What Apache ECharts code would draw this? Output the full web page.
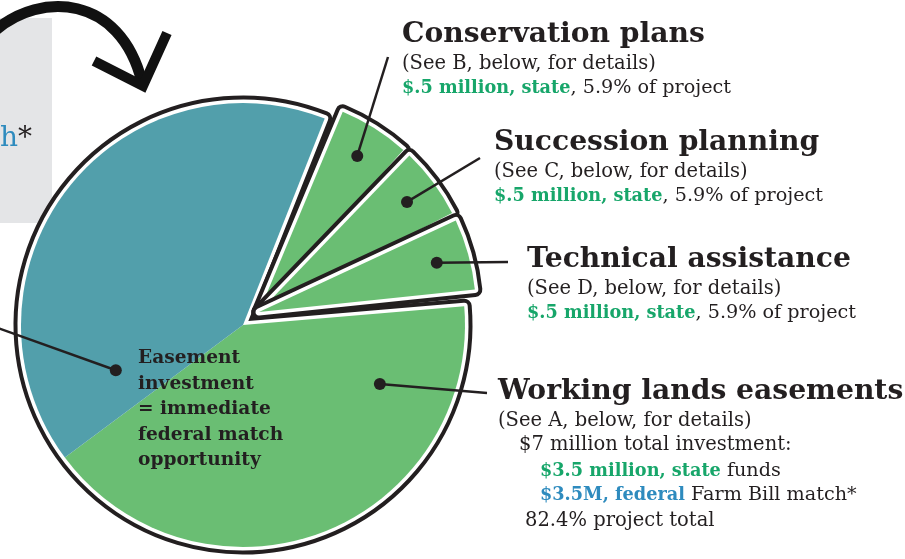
<!DOCTYPE html>
<html><head><meta charset="utf-8">
<script src="https://cdn.jsdelivr.net/npm/echarts@6/dist/echarts.min.js"></script>
<style>html,body{margin:0;padding:0;background:#fff;overflow:hidden}#c{width:905px;height:559px}</style>
</head><body><div id="c"></div>
<script>
// ---- data ($ million) ----
const sliceNames = ['Conservation plans', 'Succession planning', 'Technical assistance'];
const sliceValues = [0.5, 0.5, 0.5];
const sliceNotes = ['(See B, below, for details)', '(See C, below, for details)', '(See D, below, for details)'];
const sliceAmounts = ['$.5 million, state', '$.5 million, state', '$.5 million, state'];
const sliceShares = [', 5.9% of project', ', 5.9% of project', ', 5.9% of project'];
const easementName = 'Working lands easements';
const easementNote = '(See A, below, for details)';
const easementParts = ['State funds', 'Federal Farm Bill match'];
const easementValues = [3.5, 3.5];
const easementLines = ['$7 million total investment:', '$3.5 million, state', ' funds', '$3.5M, federal', ' Farm Bill match*', '82.4% project total'];
const insideText = ['Easement', 'investment', '= immediate', 'federal match', 'opportunity'];

// ---- style ----
const TEAL = '#529fab', GREEN = '#6abe73', INK = '#231f20', TGREEN = '#17a66a', TBLUE = '#2e8bbe';
const FONT = '"DejaVu Serif", "Liberation Serif", serif';
const START = 68.4;
const mainC = [243, 325], mainR = 222;
const smallC = [259, 312], smallR = 217;

const sliceSum = sliceValues.reduce((a, b) => a + b, 0);
const easeSum = easementValues.reduce((a, b) => a + b, 0);
const total = sliceSum + easeSum;
const clear = { color: 'rgba(0,0,0,0)', borderWidth: 0 };

function layer(center, r, data, bw, bc, pad) {
  return {
    type: 'pie', center: center, radius: [0, r], startAngle: START, clockwise: true, padAngle: pad || 0,
    silent: true, animation: false, label: { show: false }, labelLine: { show: false },
    emphasis: { disabled: true }, avoidLabelOverlap: false,
    itemStyle: { borderWidth: bw, borderColor: bc, borderJoin: 'round' },
    data: data
  };
}
const series = [
  layer(mainC, mainR, [{ value: sliceSum, itemStyle: clear }, { value: easeSum, name: easementName, itemStyle: { color: INK } }], 15, INK),
  layer(mainC, mainR, [{ value: sliceSum, itemStyle: clear }, { value: easeSum, name: easementName, itemStyle: { color: '#fff' } }], 7, '#fff'),
  layer(mainC, mainR, [{ value: sliceSum, itemStyle: clear },
    { value: easementValues[0], name: easementParts[0], itemStyle: { color: GREEN } },
    { value: easementValues[1], name: easementParts[1], itemStyle: { color: TEAL } }], 0, 'transparent')
];
// each small slice outlined on its own
sliceValues.forEach((v, i) => {
  [[INK, 15], ['#fff', 7], [GREEN, 0]].forEach(([col, bw]) => {
    const data = sliceValues.map((vv, j) => j === i ? { value: vv, name: sliceNames[j], itemStyle: { color: col } } : { value: vv, itemStyle: clear });
    data.push({ value: easeSum, itemStyle: clear });
    series.push(layer(smallC, smallR, data, bw, bw ? col : 'transparent', 2.2));
  });
});

// angle helpers (same geometry the pie uses)
function angleAt(cum) { return (START - cum / total * 360) * Math.PI / 180; }
function polar(c, r, a) { return [c[0] + r * Math.cos(a), c[1] - r * Math.sin(a)]; }

const g = [];
// background box + arrow
g.push({ type: 'rect', shape: { x: -1, y: 18, width: 53, height: 205 }, style: { fill: '#e4e5e7' }, z: 1 });
g.push({ type: 'text', x: 0, y: 139, z: 2, style: { text: '{b|h}{d|*}', font: '28px ' + FONT, verticalAlign: 'middle',
  rich: { b: { fill: TBLUE, fontSize: 28, fontFamily: FONT }, d: { fill: INK, fontSize: 28, fontFamily: FONT } } } });
g.push({ type: 'bezierCurve', z: 3, shape: { x1: -4, y1: 30, cpx1: 40, cpy1: -8, cpx2: 120, cpy2: -6, x2: 142, y2: 82 },
  style: { stroke: '#111', lineWidth: 11, fill: null, lineCap: 'round' } });
g.push({ type: 'polyline', z: 3, shape: { points: [[94, 61], [143, 86], [167, 33]] }, style: { stroke: '#111', lineWidth: 10, fill: null, lineJoin: 'miter', lineCap: 'butt' } });

// leader lines & dots
const leaders = [];
let cum = 0;
sliceValues.forEach((v, i) => {
  const a = angleAt(cum + v / 2);
  leaders.push({ dot: polar(smallC, smallR * 0.85, a) });
  cum += v;
});
const easeA = angleAt(sliceSum + easementValues[0] * 0.19);
const fedA = angleAt(sliceSum + easementValues[0] + easementValues[1] * 0.115);
leaders.push({ dot: polar(mainC, 149, easeA) });
leaders.push({ dot: polar(mainC, 135, fedA) });
const leaderEnds = [[388, 57], [480, 158], [508, 262], [487, 393], [-5, 327]];
leaders.forEach((l, i) => {
  g.push({ type: 'line', z: 10, shape: { x1: l.dot[0], y1: l.dot[1], x2: leaderEnds[i][0], y2: leaderEnds[i][1] }, style: { stroke: INK, lineWidth: 2.5 } });
  g.push({ type: 'circle', z: 11, shape: { cx: l.dot[0], cy: l.dot[1], r: 6 }, style: { fill: INK } });
});

// labels
function txt(x, base, text, size, weight, fill, rich) {
  g.push({ type: 'text', x: x, y: base - size * 0.36, z: 12, style: {
    text: text, fontSize: size, fontFamily: FONT, fontWeight: weight, fill: fill, verticalAlign: 'middle', rich: rich } });
}
const richAmt = { g: { fill: TGREEN, fontWeight: 'bold', fontSize: 17.7, fontFamily: FONT }, n: { fill: INK, fontSize: 19.2, fontFamily: FONT },
  b: { fill: TBLUE, fontWeight: 'bold', fontSize: 17.7, fontFamily: FONT } };
const sliceLabelPos = [[402, 45], [494, 153], [527, 270]];
sliceNames.forEach((n, i) => {
  const [x, b] = sliceLabelPos[i];
  txt(x, b, n, 28.2, 'bold', INK);
  txt(x, b + 26, sliceNotes[i], 19.5, 'normal', INK);
  txt(x, b + 50, '{g|' + sliceAmounts[i] + '}{n|' + sliceShares[i] + '}', 19, 'normal', INK, richAmt);
});
txt(498, 402, easementName, 28.2, 'bold', INK);
txt(498, 428, easementNote, 19.5, 'normal', INK);
txt(519, 452, easementLines[0], 19.5, 'normal', INK);
txt(540, 478, '{g|' + easementLines[1] + '}{n|' + easementLines[2] + '}', 19, 'normal', INK, richAmt);
txt(540, 502, '{b|' + easementLines[3] + '}{n|' + easementLines[4] + '}', 19, 'normal', INK, richAmt);
txt(525, 528, easementLines[5], 19.5, 'normal', INK);
insideText.forEach((t, i) => txt(138, 365 + i * 25.5, t, 18.6, 'bold', INK));

const chart = echarts.init(document.getElementById('c'), null, { renderer: 'canvas' });
chart.setOption({ animation: false, backgroundColor: '#fff', series: series, graphic: g });
</script></body></html>
